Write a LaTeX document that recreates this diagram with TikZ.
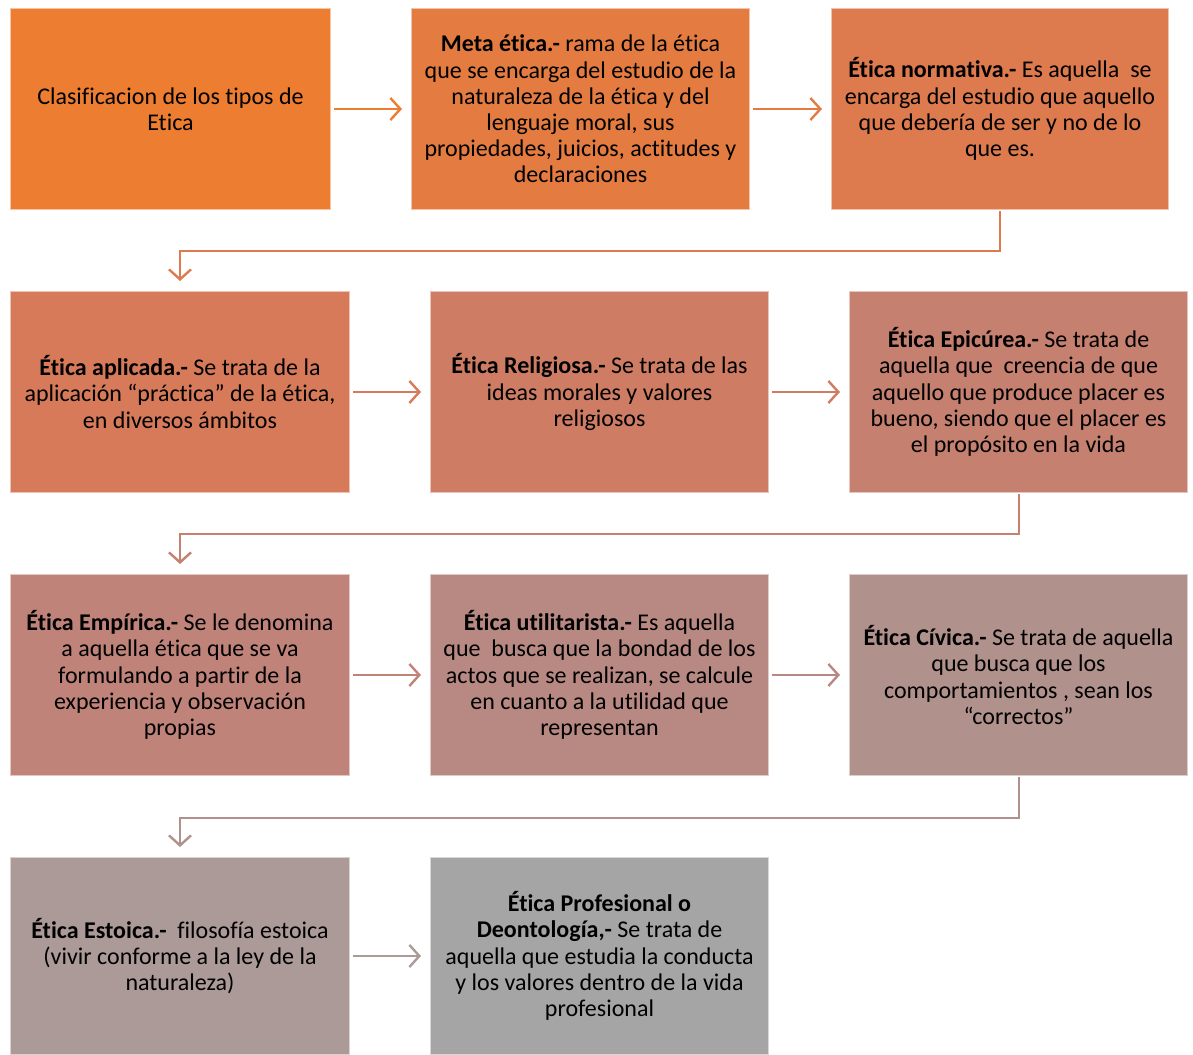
\documentclass[tikz,border=0pt]{standalone}
\usepackage{fontspec}
\setmainfont{Carlito}[Ligatures=NoCommon]
\usetikzlibrary{arrows.meta}

% Fill colours, shading from orange to grey along the chain
\definecolor{cA}{RGB}{237,125,49}
\definecolor{cB}{RGB}{228,124,65}
\definecolor{cC}{RGB}{221,122,78}
\definecolor{cD}{RGB}{214,122,89}
\definecolor{cE}{RGB}{206,125,100}
\definecolor{cF}{RGB}{198,128,112}
\definecolor{cG}{RGB}{192,131,122}
\definecolor{cH}{RGB}{184,137,131}
\definecolor{cI}{RGB}{177,145,140}
\definecolor{cJ}{RGB}{171,154,152}
\definecolor{cK}{RGB}{165,165,165}

\tikzset{
  box/.style={draw=#1!45!white, line width=1pt, fill=#1, rectangle,
    minimum width=338pt, minimum height=201pt, anchor=north west,
    align=center, inner sep=0pt,
    font=\fontsize{24}{26.2}\selectfont},
  link/.style={draw=#1, line width=2.4pt,
    -{Straight Barb[length=10pt,width=22pt,line width=2.4pt]}},
}

\begin{document}
\begin{tikzpicture}[x=1pt,y=-1pt]
\useasboundingbox (0,0) rectangle (1193,1054);

% Row 1
\node[box=cA, minimum width=320pt] (n1) at (10,8)
  {Clasificacion de los tipos de\\Etica};
\node[box=cB] (n2) at (411,8)
  {\textbf{Meta ética.-} rama de la ética\\que se encarga del estudio de la\\naturaleza de la ética y del\\lenguaje moral, sus\\propiedades, juicios, actitudes y\\declaraciones};
\node[box=cC, minimum width=337pt] (n3) at (831,8)
  {\textbf{Ética normativa.-} Es aquella~ se\\encarga del estudio que aquello\\que debería de ser y no de lo\\que es.};

% Row 2
\node[box=cD, minimum width=339pt] (n4) at (10,291)
  {\textbf{Ética aplicada.-} Se trata de la\\aplicación “práctica” de la ética,\\en diversos ámbitos};
\node[box=cE] (n5) at (430,291)
  {\textbf{Ética Religiosa.-} Se trata de las\\ideas morales y valores\\religiosos};
\node[box=cF] (n6) at (849,291)
  {\textbf{Ética Epicúrea.-} Se trata de\\aquella que~ creencia de que\\aquello que produce placer es\\bueno, siendo que el placer es\\el propósito en la vida};

% Row 3
\node[box=cG, minimum width=339pt] (n7) at (10,574)
  {\textbf{Ética Empírica.-} Se le denomina\\a aquella ética que se va\\formulando a partir de la\\experiencia y observación\\propias};
\node[box=cH] (n8) at (430,574)
  {\textbf{Ética utilitarista.-} Es aquella\\que~ busca que la bondad de los\\actos que se realizan, se calcule\\en cuanto a la utilidad que\\representan};
\node[box=cI] (n9) at (849,574)
  {\textbf{Ética Cívica.-} Se trata de aquella\\que busca que los\\comportamientos , sean los\\“correctos”};

% Row 4
\node[box=cJ, minimum width=339pt, minimum height=197pt] (n10) at (10,857)
  {\textbf{Ética Estoica.-}~ filosofía estoica\\(vivir conforme a la ley de la\\naturaleza)};
\node[box=cK, minimum height=197pt] (n11) at (430,857)
  {\textbf{Ética Profesional o}\\\textbf{Deontología,-} Se trata de\\aquella que estudia la conducta\\y los valores dentro de la vida\\profesional};

% Horizontal links
\draw[link=cA] ([xshift=3pt]n1.east) -- ([xshift=-9pt]n2.west);
\draw[link=cB] ([xshift=3pt]n2.east) -- ([xshift=-9pt]n3.west);
\draw[link=cD] ([xshift=3pt]n4.east) -- ([xshift=-9pt]n5.west);
\draw[link=cE] ([xshift=3pt]n5.east) -- ([xshift=-9pt]n6.west);
\draw[link=cG] ([xshift=3pt]n7.east) -- ([xshift=-9pt]n8.west);
\draw[link=cH] ([xshift=3pt]n8.east) -- ([xshift=-9pt]n9.west);
\draw[link=cJ] ([xshift=3pt]n10.east) -- ([xshift=-9pt]n11.west);

% Row-to-row elbow links
\draw[link=cC, line width=2pt] ([yshift=-1pt]n3.south) -- ++(0,40) -| ([yshift=10pt]n4.north);
\draw[link=cF, line width=2pt] ([yshift=-1pt]n6.south) -- ++(0,40) -| ([yshift=10pt]n7.north);
\draw[link=cI, line width=2pt] ([yshift=-1pt]n9.south) -- ++(0,41) -| ([yshift=10pt]n10.north);
\end{tikzpicture}
\end{document}
